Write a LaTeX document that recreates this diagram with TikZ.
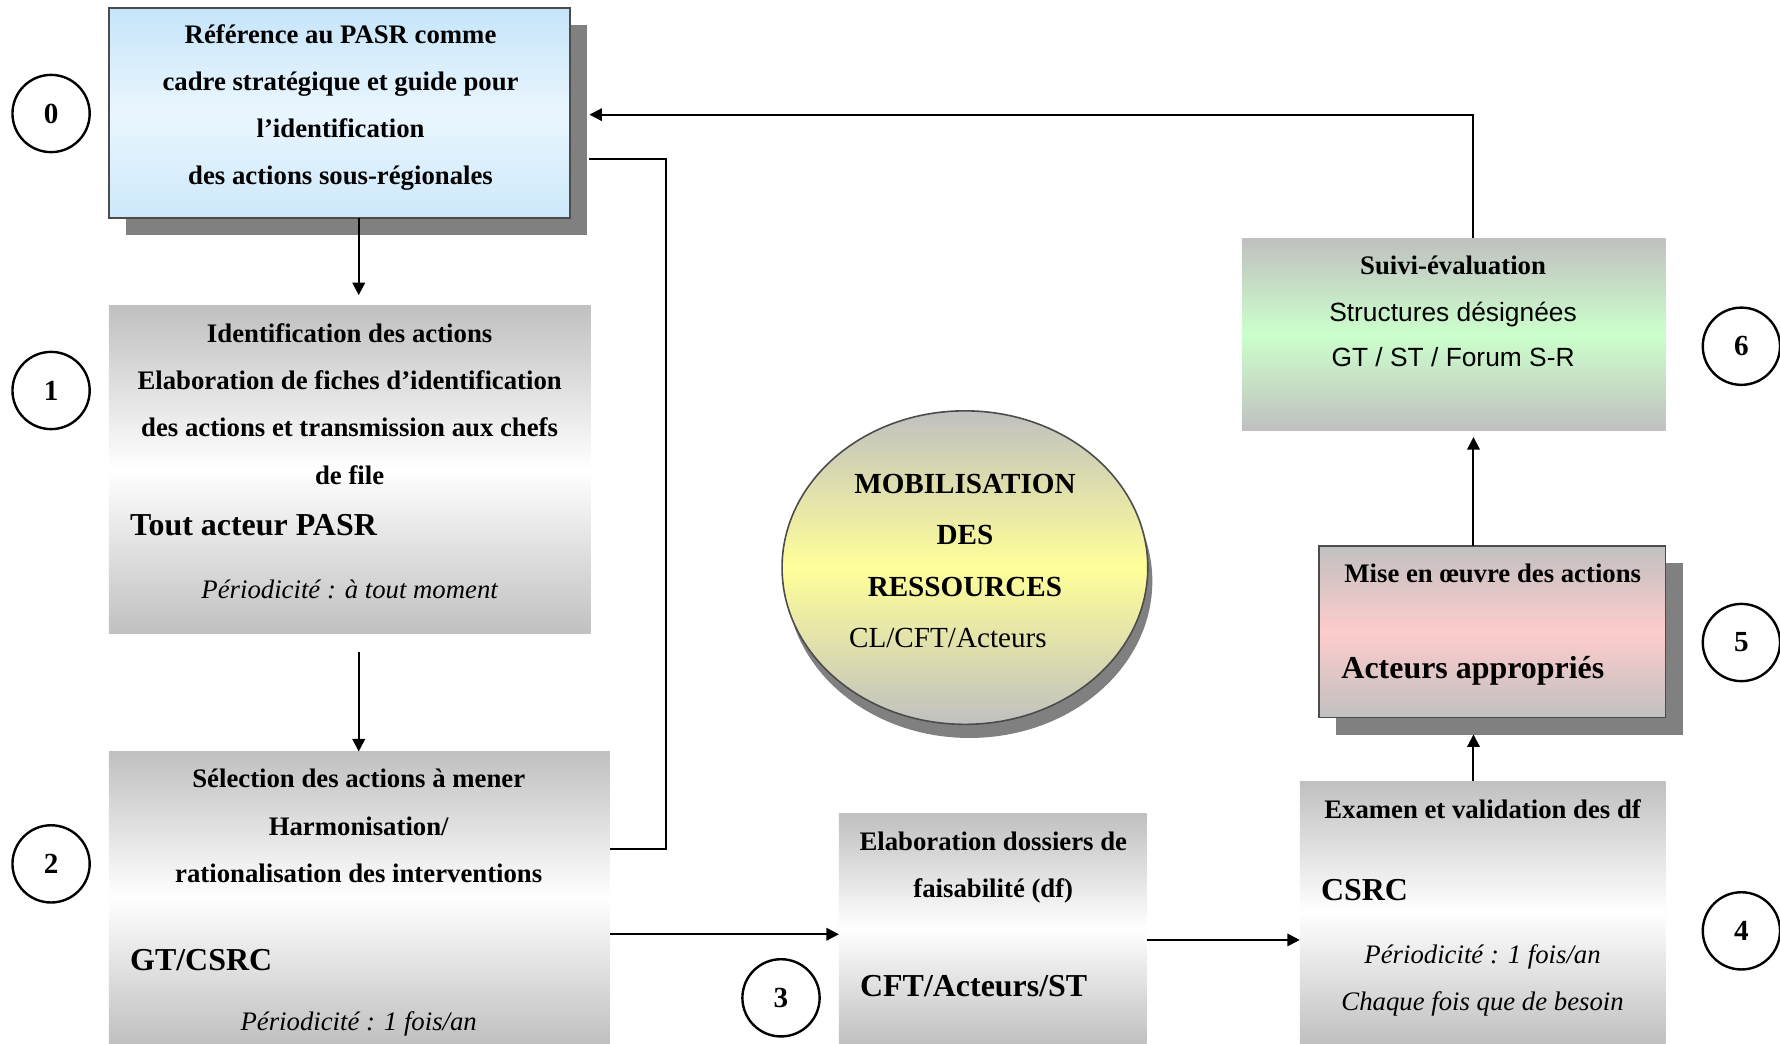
\documentclass[tikz,border=0pt]{standalone}
\usepackage{fontspec}
\setmainfont{Liberation Serif}
\newfontfamily\arialfont{Liberation Sans}
\usepackage{tikz}
\usetikzlibrary{arrows.meta, shapes.geometric, shadows}

\definecolor{boxgray}{HTML}{C0C0C0}
\definecolor{skytop}{HTML}{C6E5FA}
\definecolor{skymid}{HTML}{EAF6FE}
\definecolor{skybot}{HTML}{CCE8FA}
\definecolor{rosemid}{HTML}{FFCCCC}
\definecolor{mintmid}{HTML}{CCFFCC}
\definecolor{lemonmid}{HTML}{FFFF99}

\begin{document}
\begin{tikzpicture}[
      x=0.01cm, y=-0.01cm,
      stage/.style={anchor=north west, inner sep=0pt, outer sep=0pt,
                    top color=boxgray, bottom color=boxgray, middle color=white},
      framed/.style={draw=black!70, line width=0.4pt},
      shadowed/.style={drop shadow={shadow xshift=1.5mm, shadow yshift=-1.5mm,
                    fill=black!50, opacity=1}},
      num/.style={draw, circle, line width=0.6pt, minimum size=6.8mm, inner sep=0pt,
                  font=\fontsize{7.3}{8}\selectfont\bfseries},
      lines/.style={align=center, font=\fontsize{6.7}{11.8}\selectfont\bfseries},
      big/.style={anchor=west, inner sep=0pt, font=\fontsize{8}{9}\selectfont\bfseries},
      when/.style={align=center, font=\fontsize{6.7}{11.8}\selectfont\itshape},
      flow/.style={line width=0.5pt, -{Triangle[length=1.1mm, width=1.1mm]}},
      link/.style={line width=0.5pt},
    ]
    \useasboundingbox (0,0) rectangle (1568,919);

    % the six stage boxes
    \node[stage, framed, shadowed, top color=skytop, bottom color=skybot, middle color=skymid,
          minimum width=4.06cm, minimum height=1.85cm] (ref) at (96,7) {};
    \node[stage, minimum width=4.24cm, minimum height=2.89cm] (ident) at (96,269) {};
    \node[stage, minimum width=4.41cm, minimum height=2.57cm] (select) at (96,662) {};
    \node[stage, minimum width=2.71cm, minimum height=2.02cm] (feas) at (739,717) {};
    \node[stage, minimum width=3.22cm, minimum height=2.31cm] (exam) at (1145,688) {};
    \node[stage, framed, shadowed, middle color=rosemid,
          minimum width=3.05cm, minimum height=1.51cm] (impl) at (1162,481) {};
    \node[stage, middle color=mintmid,
          minimum width=3.73cm, minimum height=1.69cm] (eval) at (1094,210) {};
    \node[ellipse, framed, top color=boxgray, bottom color=boxgray, middle color=lemonmid,
          minimum width=3.22cm, minimum height=2.76cm, inner sep=0pt,
          drop shadow={shadow xshift=0.4mm, shadow yshift=-1.2mm, fill=black!50, opacity=1}]
          (mob) at (850,500) {};

    \node[lines] (refT) at (300,94.5)
      {Référence au PASR comme\\cadre stratégique et guide pour\\l’identification\\des actions sous-régionales};

    \node[lines] (identT) at (308,356)
      {Identification des actions\\Elaboration de fiches d’identification\\des actions et transmission aux chefs\\de file};
    \node[big] (identW) at (114,463) {Tout acteur PASR};
    \node[when] (identP) at (308,519) {Périodicité : à tout moment};

    \node[lines] (selectT) at (316,727.5)
      {Sélection des actions à mener\\Harmonisation/\\rationalisation des interventions};
    \node[big] (selectW) at (114,846) {GT/CSRC};
    \node[when] (selectP) at (316,902) {Périodicité : 1 fois/an};

    \node[lines] (feasT) at (875,764) {Elaboration dossiers de\\faisabilité (df)};
    \node[big] (feasW) at (757,869) {CFT/Acteurs/ST};

    \node[lines] (examT) at (1306,713) {Examen et validation des df};
    \node[big] (examW) at (1163,784) {CSRC};
    \node[when] (examP) at (1306,863.5) {Périodicité : 1 fois/an\\Chaque fois que de besoin};

    \node[lines] (implT) at (1315,505) {Mise en œuvre des actions};
    \node[big] (implW) at (1181,591) {Acteurs appropriés};

    \node[lines] (evalT) at (1280,234) {Suivi-évaluation};
    \node[align=center, font=\fontsize{6.6}{11.1}\selectfont\arialfont] (evalW) at (1280,294.5)
      {Structures désignées\\GT / ST / Forum S-R};

    \node[align=center, font=\fontsize{7.3}{12.9}\selectfont\bfseries] (mobT) at (850,471.5)
      {MOBILISATION\\DES\\RESSOURCES};
    \node[font=\fontsize{7.3}{9}\selectfont] (mobW) at (835,562) {CL/CFT/Acteurs};

    % step numbers
    \node[num] (n0) at (45,100) {0};
    \node[num] (n1) at (45,344) {1};
    \node[num] (n2) at (45,761) {2};
    \node[num] (n3) at (688,879) {3};
    \node[num] (n4) at (1534,820) {4};
    \node[num] (n5) at (1534,566) {5};
    \node[num] (n6) at (1534,305) {6};

    % connectors
    \coordinate (refedge) at ([xshift=1.7mm]ref.east);
    \coordinate (down0) at (316,260);
    \coordinate (down1) at (316,574);
    \coordinate (backA) at (587,748);
    \coordinate (backB) at (587,140);
    \coordinate (r23) at (640,823);
    \coordinate (r34) at (1080,828);
    \coordinate (up45) at (1298,647);
    \coordinate (up56) at (1298,385);
    \coordinate (top60) at (1298,101);

    \draw[flow] (ref.south -| down0) -- (down0);
    \draw[flow] (down1) -- (down1 |- select.north);
    \draw[link] (select.east |- backA) -- (backA) -- (backB) -- (refedge |- backB);
    \draw[flow] (select.east |- r23) -- (feas.west |- r23);
    \draw[flow] (feas.east |- r34) -- (exam.west |- r34);
    \draw[flow] (exam.north -| up45) -- (up45);
    \draw[flow] (impl.north -| up56) -- (up56);
    \draw[flow] (eval.north -| top60) -- (top60) -- (refedge |- top60);
  \end{tikzpicture}
\end{document}
